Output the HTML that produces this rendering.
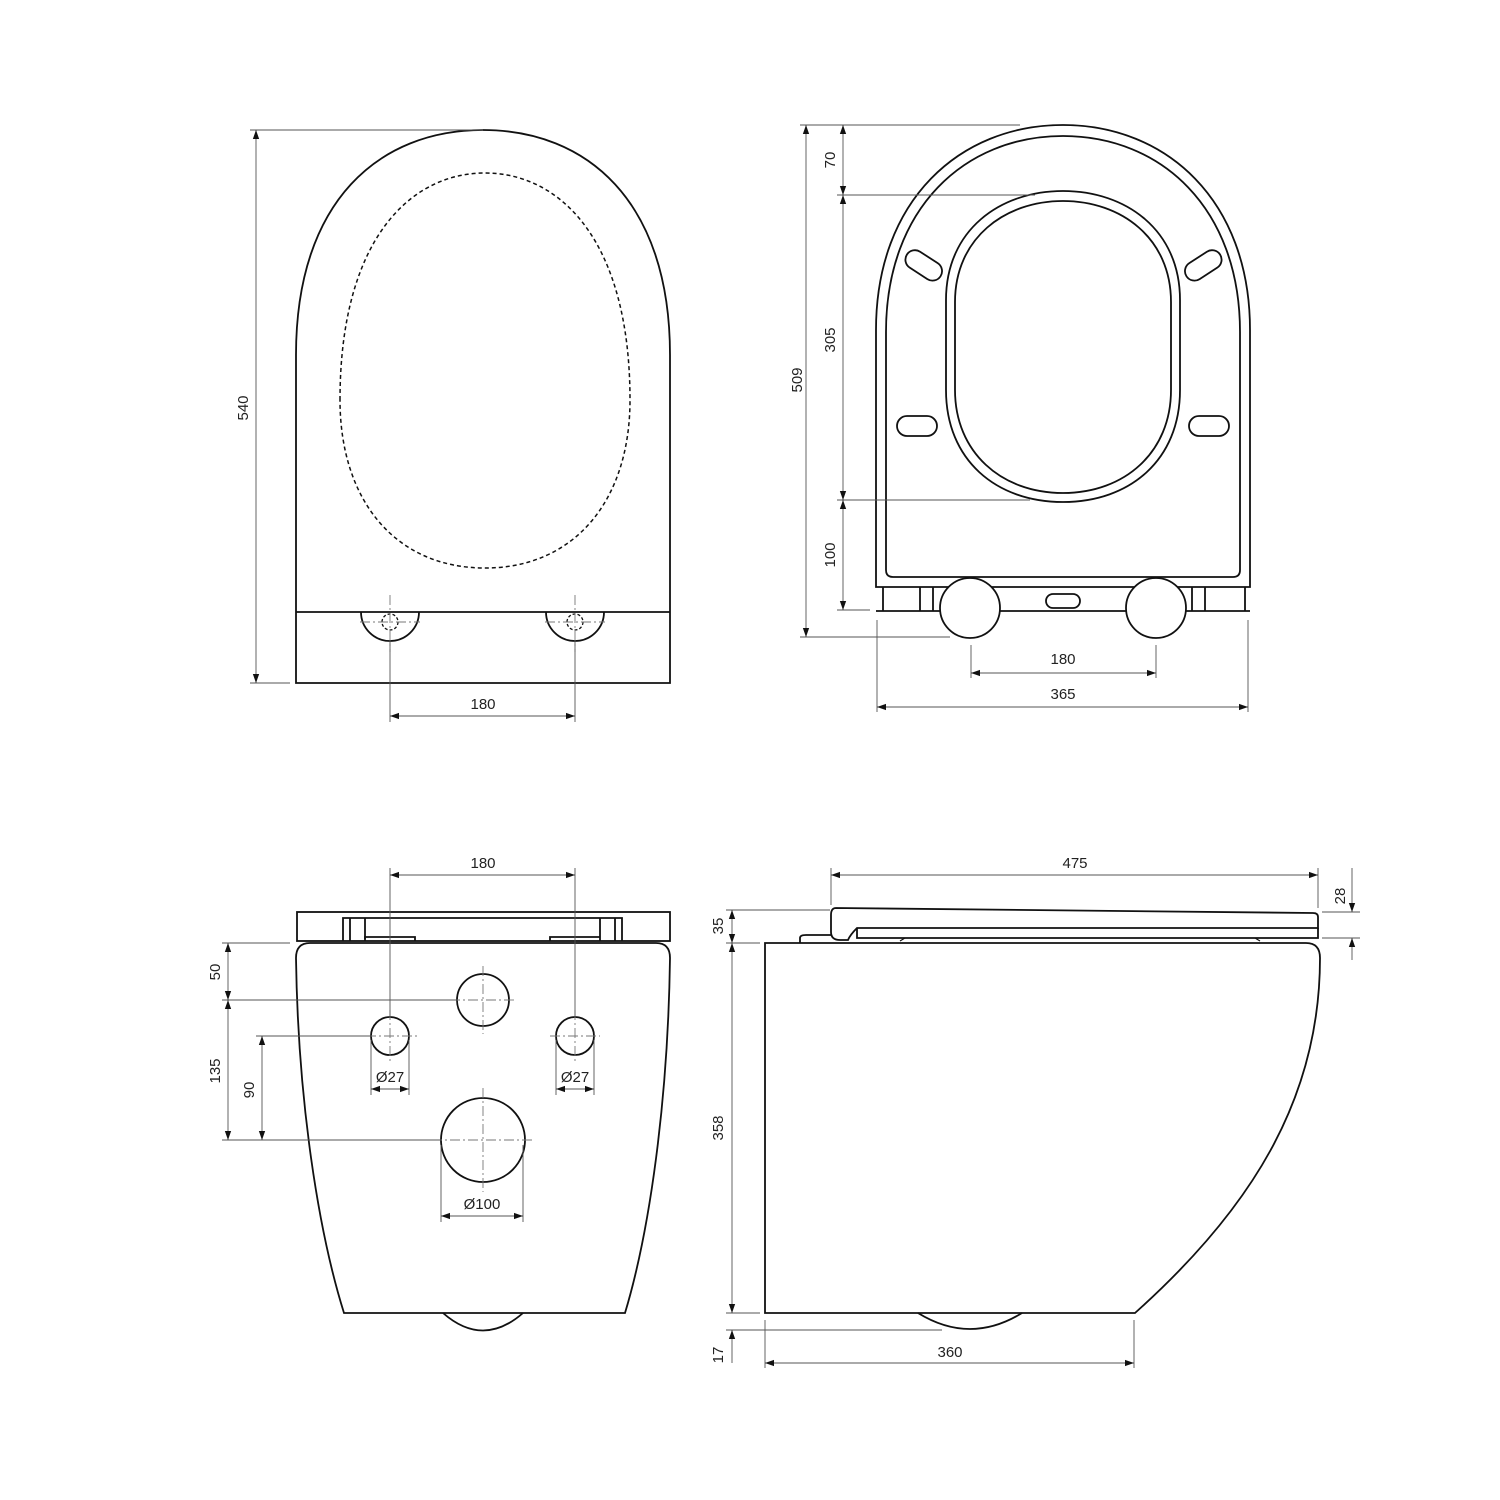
<!DOCTYPE html>
<html><head><meta charset="utf-8"><style>
html,body{margin:0;padding:0;background:#fff;}
svg{display:block;}
text{font-family:"Liberation Sans",sans-serif;font-size:15px;fill:#222;}
</style></head><body>
<svg width="1500" height="1500" viewBox="0 0 1500 1500" xmlns="http://www.w3.org/2000/svg">
<defs>
<marker id="a" viewBox="0 0 10 10" refX="10" refY="5" markerWidth="9" markerHeight="9" orient="auto-start-reverse" markerUnits="userSpaceOnUse"><path d="M0,1.5 L10,5 L0,8.5 Z" fill="#111"/></marker>
</defs>
<g fill="none" stroke="#111" stroke-width="1.8">
<!-- TOP LEFT -->
<path d="M296,683 L296,355 C296,200 380,130 483,130 C586,130 670,200 670,355 L670,683 Z"/>
<line x1="296" y1="612" x2="670" y2="612"/>
<path d="M340,400 C340,240 410,173 485,173 C560,173 630,240 630,400 C630,500 575,568 485,568 C395,568 340,500 340,400 Z" stroke-dasharray="4,3" stroke-width="1.5"/>
<path d="M361,612 A29,29 0 0 0 419,612"/>
<path d="M546,612 A29,29 0 0 0 604,612"/>
<circle cx="390" cy="622" r="8" stroke-dasharray="3,2" stroke-width="1.3"/>
<circle cx="575" cy="622" r="8" stroke-dasharray="3,2" stroke-width="1.3"/>

<!-- TOP RIGHT -->
<path d="M876,587 L876,330 C876,200 960,125 1063,125 C1166,125 1250,200 1250,330 L1250,587 Z"/>
<path d="M886,570 L886,332 C886,208 965,136 1063,136 C1161,136 1240,208 1240,332 L1240,570 Q1240,577 1233,577 L893,577 Q886,577 886,570 Z"/>
<path d="M946,300 C946,230 1000,191 1063,191 C1126,191 1180,230 1180,300 L1180,390 C1180,460 1130,502 1063,502 C996,502 946,460 946,390 Z"/>
<path d="M955,302 C955,238 1005,201 1063,201 C1121,201 1171,238 1171,302 L1171,390 C1171,452 1125,493 1063,493 C1001,493 955,452 955,390 Z"/>
<rect x="904" y="256" width="40" height="19" rx="9.5" transform="rotate(33 924 265)"/>
<rect x="1183" y="256" width="40" height="19" rx="9.5" transform="rotate(-33 1203 265)"/>
<rect x="897" y="416" width="40" height="20" rx="10"/>
<rect x="1189" y="416" width="40" height="20" rx="10"/>
<line x1="876" y1="611" x2="1250" y2="611"/>
<line x1="883" y1="587" x2="883" y2="611"/>
<line x1="920" y1="587" x2="920" y2="611"/>
<line x1="933" y1="587" x2="933" y2="611"/>
<line x1="1192" y1="587" x2="1192" y2="611"/>
<line x1="1205" y1="587" x2="1205" y2="611"/>
<line x1="1245" y1="587" x2="1245" y2="611"/>
<circle cx="970" cy="608" r="30" fill="#fff"/>
<circle cx="1156" cy="608" r="30" fill="#fff"/>
<rect x="1046" y="594" width="34" height="14" rx="7"/>

<!-- BOTTOM LEFT -->
<rect x="297" y="912" width="373" height="29"/>
<path d="M343,941 L343,918 L622,918 L622,941"/>
<line x1="350" y1="918" x2="350" y2="941"/>
<line x1="365" y1="918" x2="365" y2="941"/>
<line x1="600" y1="918" x2="600" y2="941"/>
<line x1="615" y1="918" x2="615" y2="941"/>
<path d="M365,939 L365,937 L415,937 L415,941 M550,941 L550,937 L600,937"/>
<path d="M296,958 Q296,943 310,943 L656,943 Q670,943 670,958 C668,1100 650,1230 625,1313 L344,1313 C318,1230 298,1100 296,958 Z"/>
<path d="M443,1313 Q483,1348 523,1313"/>
<circle cx="483" cy="1000" r="26"/>
<circle cx="390" cy="1036" r="19"/>
<circle cx="575" cy="1036" r="19"/>
<circle cx="483" cy="1140" r="42"/>

<!-- BOTTOM RIGHT -->
<path d="M765,943 L1306,943 Q1320,943 1320,958 C1320,1100 1250,1210 1135,1313 L765,1313 Z"/>
<path d="M918,1313 Q970,1345 1022,1313"/>
<path d="M836,908 L1313,913 Q1318,913 1318,917 L1318,928 L857,928 Q850,935 848,940 L840,940 Q831,940 831,932 L831,915 Q831,908 836,908 Z"/>
<path d="M857,928 L857,938 L1318,938 L1318,928"/>
<path d="M800,943 L800,938 Q800,935 806,935 L831,935"/>
<path d="M900,941 L905,938 M1255,938 L1260,941" stroke-width="1.2"/>
</g>

<!-- center lines -->
<g stroke="#777" stroke-width="0.9" stroke-dasharray="10,3,2,3" fill="none">
<line x1="390" y1="595" x2="390" y2="652"/><line x1="360" y1="622" x2="420" y2="622"/>
<line x1="575" y1="595" x2="575" y2="652"/><line x1="545" y1="622" x2="605" y2="622"/>
<line x1="483" y1="966" x2="483" y2="1034"/><line x1="450" y1="1000" x2="516" y2="1000"/>
<line x1="390" y1="1010" x2="390" y2="1062"/><line x1="366" y1="1036" x2="418" y2="1036"/>
<line x1="575" y1="1010" x2="575" y2="1062"/><line x1="550" y1="1036" x2="600" y2="1036"/>
<line x1="483" y1="1088" x2="483" y2="1192"/><line x1="432" y1="1140" x2="534" y2="1140"/>
</g>

<!-- dimension lines -->
<g stroke="#555" stroke-width="0.9" fill="none">
<line x1="250" y1="130" x2="483" y2="130"/><line x1="250" y1="683" x2="290" y2="683"/>
<line x1="256" y1="130" x2="256" y2="683" marker-start="url(#a)" marker-end="url(#a)"/>
<line x1="390" y1="640" x2="390" y2="722"/><line x1="575" y1="640" x2="575" y2="722"/>
<line x1="390" y1="716" x2="575" y2="716" marker-start="url(#a)" marker-end="url(#a)"/>
<line x1="800" y1="125" x2="1020" y2="125"/>
<line x1="837" y1="195" x2="1035" y2="195"/>
<line x1="837" y1="500" x2="1030" y2="500"/>
<line x1="837" y1="610" x2="870" y2="610"/>
<line x1="800" y1="637" x2="950" y2="637"/>
<line x1="806" y1="125" x2="806" y2="637" marker-start="url(#a)" marker-end="url(#a)"/>
<line x1="843" y1="125" x2="843" y2="195" marker-start="url(#a)" marker-end="url(#a)"/>
<line x1="843" y1="195" x2="843" y2="500" marker-start="url(#a)" marker-end="url(#a)"/>
<line x1="843" y1="500" x2="843" y2="610" marker-start="url(#a)" marker-end="url(#a)"/>
<line x1="971" y1="645" x2="971" y2="678"/><line x1="1156" y1="645" x2="1156" y2="678"/>
<line x1="971" y1="673" x2="1156" y2="673" marker-start="url(#a)" marker-end="url(#a)"/>
<line x1="877" y1="620" x2="877" y2="712"/><line x1="1248" y1="620" x2="1248" y2="712"/>
<line x1="877" y1="707" x2="1248" y2="707" marker-start="url(#a)" marker-end="url(#a)"/>
<line x1="390" y1="868" x2="390" y2="1017"/><line x1="575" y1="868" x2="575" y2="1017"/>
<line x1="390" y1="875" x2="575" y2="875" marker-start="url(#a)" marker-end="url(#a)"/>
<line x1="222" y1="943" x2="290" y2="943"/>
<line x1="222" y1="1000" x2="457" y2="1000"/>
<line x1="222" y1="1140" x2="441" y2="1140"/>
<line x1="256" y1="1036" x2="371" y2="1036"/>
<line x1="228" y1="943" x2="228" y2="1000" marker-start="url(#a)" marker-end="url(#a)"/>
<line x1="228" y1="1000" x2="228" y2="1140" marker-start="url(#a)" marker-end="url(#a)"/>
<line x1="262" y1="1036" x2="262" y2="1140" marker-start="url(#a)" marker-end="url(#a)"/>
<line x1="371" y1="1040" x2="371" y2="1095"/><line x1="409" y1="1040" x2="409" y2="1095"/>
<line x1="556" y1="1040" x2="556" y2="1095"/><line x1="594" y1="1040" x2="594" y2="1095"/>
<line x1="371" y1="1089" x2="409" y2="1089" marker-start="url(#a)" marker-end="url(#a)"/>
<line x1="556" y1="1089" x2="594" y2="1089" marker-start="url(#a)" marker-end="url(#a)"/>
<line x1="441" y1="1145" x2="441" y2="1222"/><line x1="523" y1="1145" x2="523" y2="1222"/>
<line x1="441" y1="1216" x2="523" y2="1216" marker-start="url(#a)" marker-end="url(#a)"/>
<line x1="831" y1="868" x2="831" y2="905"/><line x1="1318" y1="868" x2="1318" y2="908"/>
<line x1="831" y1="875" x2="1318" y2="875" marker-start="url(#a)" marker-end="url(#a)"/>
<line x1="1322" y1="912" x2="1360" y2="912"/><line x1="1322" y1="938" x2="1360" y2="938"/>
<line x1="1352" y1="868" x2="1352" y2="912" marker-end="url(#a)"/>
<line x1="1352" y1="938" x2="1352" y2="960" marker-start="url(#a)"/>
<line x1="726" y1="910" x2="830" y2="910"/>
<line x1="726" y1="943" x2="760" y2="943"/>
<line x1="726" y1="1313" x2="760" y2="1313"/>
<line x1="726" y1="1330" x2="942" y2="1330"/>
<line x1="732" y1="910" x2="732" y2="943" marker-start="url(#a)" marker-end="url(#a)"/>
<line x1="732" y1="943" x2="732" y2="1313" marker-start="url(#a)" marker-end="url(#a)"/>
<line x1="732" y1="1330" x2="732" y2="1363" marker-start="url(#a)"/>
<line x1="765" y1="1320" x2="765" y2="1368"/><line x1="1134" y1="1320" x2="1134" y2="1368"/>
<line x1="765" y1="1363" x2="1134" y2="1363" marker-start="url(#a)" marker-end="url(#a)"/>
</g>

<g text-anchor="middle">
<text x="483" y="709">180</text>
<text transform="translate(248,408) rotate(-90)">540</text>
<text transform="translate(802,380) rotate(-90)">509</text>
<text transform="translate(835,160) rotate(-90)">70</text>
<text transform="translate(835,340) rotate(-90)">305</text>
<text transform="translate(835,555) rotate(-90)">100</text>
<text x="1063" y="664">180</text>
<text x="1063" y="699">365</text>
<text x="483" y="868">180</text>
<text transform="translate(220,972) rotate(-90)">50</text>
<text transform="translate(220,1071) rotate(-90)">135</text>
<text transform="translate(254,1090) rotate(-90)">90</text>
<text x="390" y="1082">Ø27</text>
<text x="575" y="1082">Ø27</text>
<text x="482" y="1209">Ø100</text>
<text x="1075" y="868">475</text>
<text transform="translate(1345,896) rotate(-90)">28</text>
<text transform="translate(723,926) rotate(-90)">35</text>
<text transform="translate(723,1128) rotate(-90)">358</text>
<text transform="translate(723,1355) rotate(-90)">17</text>
<text x="950" y="1357">360</text>
</g>
</svg>
</body></html>
